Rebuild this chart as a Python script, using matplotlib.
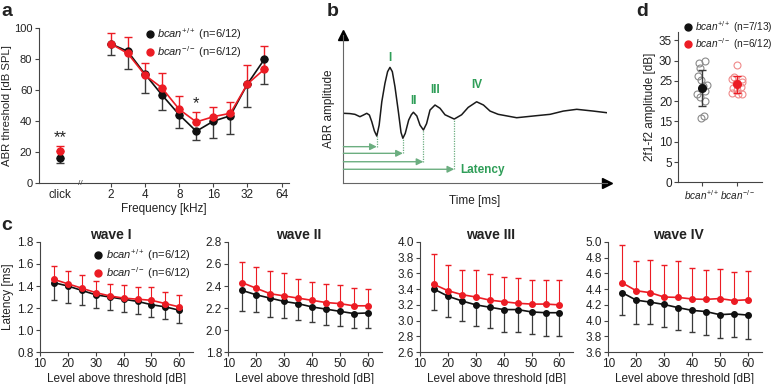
import numpy as np
import matplotlib
matplotlib.use("Agg")
import matplotlib.pyplot as plt
from matplotlib.lines import Line2D

# ──────────────────────────────────────────────────────────────
# DATA
# ──────────────────────────────────────────────────────────────

# panel a : ABR thresholds
FREQ_KHZ   = [2, 2.8, 4, 5.6, 8, 11.3, 16, 22.6, 32, 45.2]
FREQ_TICKS = [2, 4, 8, 16, 32, 64]
THR_WT     = [89.7, 85.0, 70.1, 57.0, 44.0, 33.4, 39.9, 43.4, 63.9, 79.9]
THR_WT_SD  = [7.1, 11.7, 12.2, 9.9, 8.7, 5.7, 10.7, 12.0, 15.1, 16.0]
THR_KO     = [89.7, 83.7, 69.5, 61.5, 47.5, 39.4, 42.8, 45.0, 63.9, 73.5]
THR_KO_SD  = [6.9, 10.3, 7.7, 9.3, 8.6, 6.2, 6.0, 7.5, 12.2, 14.9]
CLICK_WT, CLICK_WT_SD = 16.1, 3.2
CLICK_KO, CLICK_KO_SD = 20.6, 3.3

# panel b : schematic ABR trace
WAVE_T   = [0, 0.25, 0.44, 0.63, 0.76, 0.89, 0.99, 1.08, 1.18, 1.27, 1.36,
            1.46, 1.58, 1.68, 1.77, 1.86, 1.96, 2.09, 2.19, 2.26, 2.35, 2.48,
            2.58, 2.66, 2.79, 2.91, 3.04, 3.16, 3.29, 3.48, 3.67, 3.86, 4.21,
            4.49, 4.74, 5.06, 5.32, 5.57, 5.88, 6.58, 7.34, 7.85, 8.35, 8.86,
            9.49, 10]
WAVE_AMP = [4.70, 4.68, 4.63, 4.47, 4.58, 4.70, 4.58, 4.13, 3.50, 3.16, 3.90,
            5.48, 6.73, 7.52, 7.81, 7.52, 6.50, 4.80, 3.40, 3.01, 3.34, 4.24,
            4.60, 4.77, 4.52, 3.90, 3.57, 4.00, 4.92, 5.26, 5.04, 4.60, 4.31,
            4.60, 5.10, 5.48, 5.26, 4.85, 4.63, 4.40, 4.54, 4.63, 4.85, 4.97,
            4.85, 4.74]
PEAK_NAMES = ["I", "II", "III", "IV"]
PEAK_T     = [1.77, 2.66, 3.48, 5.06]
PEAK_LBL_Y = [8.45, 5.55, 6.3, 6.6]
TROUGH_T   = [1.27, 2.26, 3.04, 4.21]
TROUGH_AMP = [3.16, 3.01, 3.57, 4.31]
LAT_ARROW_Y = [2.44, 1.99, 1.42, 0.91]

# panel c : latencies
LEVELS = [15, 20, 25, 30, 35, 40, 45, 50, 55, 60]
W1_WT    = [1.43, 1.40, 1.36, 1.32, 1.30, 1.28, 1.26, 1.23, 1.21, 1.18]
W1_WT_SD = [0.16, 0.15, 0.13, 0.12, 0.12, 0.12, 0.11, 0.11, 0.11, 0.12]
W1_KO    = [1.46, 1.42, 1.38, 1.34, 1.31, 1.29, 1.28, 1.27, 1.24, 1.21]
W1_KO_SD = [0.12, 0.12, 0.12, 0.11, 0.11, 0.12, 0.11, 0.12, 0.11, 0.11]
W2_WT    = [2.36, 2.32, 2.29, 2.26, 2.24, 2.21, 2.19, 2.17, 2.15, 2.155]
W2_WT_SD = [0.185, 0.16, 0.17, 0.15, 0.15, 0.14, 0.14, 0.13, 0.13, 0.14]
W2_KO    = [2.43, 2.38, 2.33, 2.31, 2.29, 2.27, 2.25, 2.24, 2.22, 2.22]
W2_KO_SD = [0.19, 0.195, 0.21, 0.205, 0.175, 0.17, 0.17, 0.17, 0.16, 0.155]
W3_WT    = [3.40, 3.31, 3.25, 3.20, 3.17, 3.14, 3.14, 3.11, 3.10, 3.10]
W3_WT_SD = [0.26, 0.26, 0.26, 0.27, 0.26, 0.28, 0.28, 0.28, 0.29, 0.29]
W3_KO    = [3.46, 3.38, 3.33, 3.30, 3.26, 3.24, 3.22, 3.21, 3.21, 3.20]
W3_KO_SD = [0.39, 0.33, 0.32, 0.34, 0.33, 0.32, 0.32, 0.31, 0.31, 0.32]
W4_WT    = [4.355, 4.26, 4.235, 4.205, 4.165, 4.13, 4.115, 4.075, 4.085, 4.07]
W4_WT_SD = [0.285, 0.30, 0.275, 0.285, 0.285, 0.28, 0.295, 0.295, 0.295, 0.31]
W4_KO    = [4.48, 4.38, 4.355, 4.30, 4.295, 4.275, 4.27, 4.28, 4.255, 4.265]
W4_KO_SD = [0.48, 0.38, 0.415, 0.41, 0.465, 0.395, 0.38, 0.38, 0.365, 0.365]

WAVES = [
    ("wave I",   W1_WT, W1_WT_SD, W1_KO, W1_KO_SD, (0.8, 1.8), [0.8, 1.0, 1.2, 1.4, 1.6, 1.8]),
    ("wave II",  W2_WT, W2_WT_SD, W2_KO, W2_KO_SD, (1.8, 2.8), [1.8, 2.0, 2.2, 2.4, 2.6, 2.8]),
    ("wave III", W3_WT, W3_WT_SD, W3_KO, W3_KO_SD, (2.6, 4.0), [2.6, 2.8, 3.0, 3.2, 3.4, 3.6, 3.8, 4.0]),
    ("wave IV",  W4_WT, W4_WT_SD, W4_KO, W4_KO_SD, (3.6, 5.0), [3.6, 3.8, 4.0, 4.2, 4.4, 4.6, 4.8, 5.0]),
]

# panel d : DPOAE amplitude
DP_WT      = [29.5, 30.0, 28.3, 26.2, 25.3, 24.0, 23.8, 21.7, 22.4, 21.0, 20.0, 15.8, 16.3]
DP_WT_JIT  = [-0.09, 0.08, -0.05, -0.1, -0.03, 0.14, 0.03, -0.12, 0.1, -0.05, 0.09, -0.03, 0.06]
DP_KO      = [29.0, 25.9, 25.6, 25.4, 24.8, 24.5, 23.6, 23.3, 22.8, 22.0, 21.8, 21.7]
DP_KO_JIT  = [0.0, -0.1, 0.12, -0.15, 0.14, -0.05, 0.1, -0.12, 0.0, -0.14, 0.12, 0.03]
DP_WT_MEAN, DP_WT_SD = 23.3, 4.5
DP_KO_MEAN, DP_KO_SD = 24.2, 2.1

# ──────────────────────────────────────────────────────────────
# STYLE
# ──────────────────────────────────────────────────────────────

BLACK  = "#111111"
EBLACK = "#3a3a3a"
RED    = "#ec1c24"
GREEN  = "#2f9e58"
LGREEN = "#6cae80"
AXCOL  = "#444444"

plt.rcParams.update({
    "font.family": ["Liberation Sans", "DejaVu Sans"],
    "font.size": 8.5,
    "mathtext.fontset": "custom",
    "mathtext.rm": "Liberation Sans",
    "mathtext.it": "Liberation Sans:italic",
    "text.color": "#222222",
    "axes.edgecolor": AXCOL,
    "axes.linewidth": 0.8,
    "axes.labelcolor": "#222222",
    "xtick.color": AXCOL,
    "ytick.color": AXCOL,
    "xtick.labelcolor": "#222222",
    "ytick.labelcolor": "#222222",
    "xtick.major.size": 3,
    "ytick.major.size": 3,
    "xtick.major.pad": 1.5,
    "ytick.major.pad": 1.5,
})

WT_LBL = r"$\mathit{bcan}^{+/+}$"
KO_LBL = r"$\mathit{bcan}^{-/-}$"


def clean(ax):
    ax.spines["top"].set_visible(False)
    ax.spines["right"].set_visible(False)


def legend(ax, n_wt, n_ko, anchor, size=8):
    handles = [Line2D([], [], ls="none", marker="o", ms=5, color=BLACK),
               Line2D([], [], ls="none", marker="o", ms=5, color=RED)]
    ax.legend(handles, [f"{WT_LBL} (n={n_wt})", f"{KO_LBL} (n={n_ko})"],
              loc="upper left", bbox_to_anchor=anchor, frameon=False,
              fontsize=size, handlelength=0.6, handletextpad=0.4,
              labelspacing=0.15, borderpad=0, borderaxespad=0)


fig = plt.figure(figsize=(7.78, 3.84), dpi=100)

# ──────────────────────────────────────────────────────────────
# PANEL a
# ──────────────────────────────────────────────────────────────

CLICK_POS = -0.5
BREAK_POS = 0.09
ax_a = fig.add_axes([0.0495, 0.5234, 0.322, 0.4036])
clean(ax_a)
xf = np.log2(FREQ_KHZ)
zeros = np.zeros(len(FREQ_KHZ))
ax_a.errorbar(xf, THR_WT, yerr=[THR_WT_SD, zeros], color=BLACK, ecolor=EBLACK,
              marker="o", ms=5, lw=1.2, elinewidth=1, capsize=3)
ax_a.errorbar(xf, THR_KO, yerr=[zeros, THR_KO_SD], color=RED, ecolor=RED,
              marker="o", ms=5, lw=1.2, elinewidth=1, capsize=3)
ax_a.errorbar([CLICK_POS], [CLICK_WT], yerr=[[CLICK_WT_SD], [0]], color=BLACK,
              ecolor=EBLACK, marker="o", ms=5, elinewidth=1, capsize=3)
ax_a.errorbar([CLICK_POS], [CLICK_KO], yerr=[[0], [CLICK_KO_SD]], color=RED,
              ecolor=RED, marker="o", ms=5, elinewidth=1, capsize=3)
ax_a.text(CLICK_POS, 29, "**", ha="center", va="center", fontsize=12)
ax_a.text(np.log2(11.3), 51, "*", ha="center", va="center", fontsize=12)
ax_a.text(BREAK_POS, 0, "//", ha="center", va="center", fontsize=6,
          color=AXCOL, clip_on=False)
ax_a.set_xlim(-1.13, 6.22)
ax_a.set_ylim(0, 100)
ax_a.set_xticks([CLICK_POS] + list(np.log2(FREQ_TICKS)))
ax_a.set_xticklabels(["click"] + [str(f) for f in FREQ_TICKS])
ax_a.xaxis.get_major_ticks()[0].tick1line.set_visible(False)
ax_a.set_yticks([0, 20, 40, 60, 80, 100])
ax_a.tick_params(axis="y", labelsize=8)
ax_a.set_xlabel("Frequency [kHz]", labelpad=1)
ax_a.set_ylabel("ABR threshold [dB SPL]", fontsize=8.2)
ax_a.yaxis.set_label_coords(-0.104, 0.5)
legend(ax_a, "6/12", "6/12", (0.43, 1.01))

# ──────────────────────────────────────────────────────────────
# PANEL b  (schematic)
# ──────────────────────────────────────────────────────────────

ax_b = fig.add_axes([0.4413, 0.5242, 0.3386, 0.3846])
clean(ax_b)
ax_b.spines["left"].set_color("#666666")
ax_b.spines["bottom"].set_color("#666666")
ax_b.set_xlim(0, 10)
ax_b.set_ylim(0, 10)
ax_b.set_xticks([])
ax_b.set_yticks([])
ax_b.plot(1, 0, ">", color="k", ms=7, transform=ax_b.transAxes, clip_on=False)
ax_b.plot(0, 1, "^", color="k", ms=7, transform=ax_b.transAxes, clip_on=False)
ax_b.plot(WAVE_T, WAVE_AMP, color="#1a1a1a", lw=1.1, solid_joinstyle="round")
for name, t, ly in zip(PEAK_NAMES, PEAK_T, PEAK_LBL_Y):
    ax_b.text(t, ly, name, color=GREEN, fontweight="bold", fontsize=8.5,
              ha="center", va="center")
for t, amp, ay in zip(TROUGH_T, TROUGH_AMP, LAT_ARROW_Y):
    ax_b.plot([t, t], [ay, amp], color=LGREEN, lw=0.9, ls=(0, (1, 1)))
    ax_b.annotate("", xy=(t, ay), xytext=(0, ay),
                  arrowprops=dict(arrowstyle="-|>", color=LGREEN, lw=1,
                                  mutation_scale=10, shrinkA=0, shrinkB=0))
ax_b.text(5.29, 0.86, "Latency", color=GREEN, fontweight="bold", fontsize=8.5,
          ha="center", va="center")
ax_b.set_xlabel("Time [ms]", labelpad=9)
ax_b.set_ylabel("ABR amplitude", labelpad=6)

# ──────────────────────────────────────────────────────────────
# PANEL c
# ──────────────────────────────────────────────────────────────

C_LEFT = [0.0514, 0.2934, 0.540, 0.7819]
for i, (title, wt, wt_sd, ko, ko_sd, ylim, yticks) in enumerate(WAVES):
    ax = fig.add_axes([C_LEFT[i], 0.0833, 0.197, 0.2865])
    clean(ax)
    z = np.zeros(len(LEVELS))
    ax.errorbar(LEVELS, wt, yerr=[wt_sd, z], color=BLACK, ecolor=EBLACK,
                marker="o", ms=4, lw=1.2, elinewidth=0.9, capsize=2)
    ax.errorbar(LEVELS, ko, yerr=[z, ko_sd], color=RED, ecolor=RED,
                marker="o", ms=4, lw=1.2, elinewidth=0.8, capsize=2)
    ax.set_xlim(10, 65)
    ax.set_ylim(*ylim)
    ax.set_xticks([10, 20, 30, 40, 50, 60])
    ax.set_yticks(yticks)
    ax.set_yticklabels([f"{v:.1f}" for v in yticks])
    ax.set_title(title, fontsize=10, fontweight="bold", x=0.46, pad=1)
    ax.set_xlabel("Level above threshold [dB]", labelpad=2)
    if i == 0:
        ax.set_ylabel("Latency [ms]", labelpad=2)
        legend(ax, "6/12", "6/12", (0.36, 0.95))

# ──────────────────────────────────────────────────────────────
# PANEL d
# ──────────────────────────────────────────────────────────────

ax_d = fig.add_axes([0.8719, 0.5253, 0.108, 0.3906])
clean(ax_d)
ax_d.plot(np.array(DP_WT_JIT), DP_WT, ls="none", marker="o", ms=5, mfc="none",
          mec="#8a8a8a", mew=0.8)
ax_d.plot(1 + np.array(DP_KO_JIT), DP_KO, ls="none", marker="o", ms=5,
          mfc="none", mec="#f08a8a", mew=0.8)
ax_d.errorbar([0], [DP_WT_MEAN], yerr=[DP_WT_SD], color=BLACK, ecolor=EBLACK,
              marker="o", ms=5.5, elinewidth=1, capsize=3)
ax_d.errorbar([1], [DP_KO_MEAN], yerr=[DP_KO_SD], color=RED, ecolor=RED,
              marker="o", ms=5.5, elinewidth=1, capsize=3)
ax_d.set_xlim(-0.657, 1.70)
ax_d.set_ylim(0, 37)
ax_d.set_yticks([0, 5, 10, 15, 20, 25, 30, 35])
ax_d.set_xticks([0, 1])
ax_d.set_xticklabels([WT_LBL, KO_LBL], fontsize=7.2)
ax_d.set_ylabel("2f1-f2 amplitude [dB]", labelpad=2)
legend(ax_d, "7/13", "6/12", (0.08, 1.09), size=7.3)

# panel letters
for x, y, s in [(0.002, 0.958, "a"), (0.42, 0.958, "b"), (0.002, 0.401, "c"),
                (0.818, 0.958, "d")]:
    fig.text(x, y, s, fontsize=14, fontweight="bold", va="baseline")

fig.savefig("out.png", dpi=100)
